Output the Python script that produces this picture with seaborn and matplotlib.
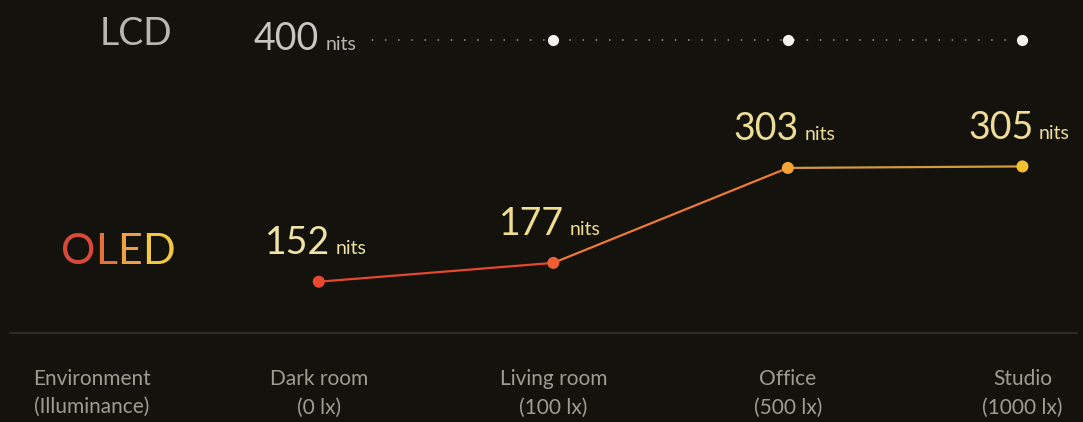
import matplotlib
matplotlib.use('Agg')
import matplotlib.pyplot as plt
import seaborn as sns
from matplotlib.lines import Line2D

categories = ['Dark room', 'Living room', 'Office', 'Studio']
illuminance = ['0 lx', '100 lx', '500 lx', '1000 lx']
positions = [0, 1, 2, 3]
lcd_nits = [400, 400, 400, 400]
oled_nits = [152, 177, 303, 305]

bg = '#13120d'
oled_point_colors = ['#e8492f', '#ee5f33', '#f5a535', '#f4c02f']
oled_seg_colors = ['#e4482f', '#ec7a35', '#d4983e']
oled_label_colors = ['#efe3a8', '#f0dd90', '#eddc95', '#efdc98']
oled_letters = ['O', 'L', 'E', 'D']
oled_letter_colors = ['#d9493a', '#e8703a', '#f0a040', '#f2c844']

sns.set_theme(style='dark', rc={'figure.facecolor': bg, 'axes.facecolor': bg})
plt.rcParams['font.family'] = ['Lato', 'DejaVu Sans']

fig = plt.figure(figsize=(10.83, 4.22), dpi=100)
ax = fig.add_axes([0.1644, 0.2133, 0.8338, 0.455])
ax_lcd = fig.add_axes([0.1644, 0.8578, 0.8338, 0.0948])

# OLED line, one colour per segment
for i in range(3):
    sns.lineplot(x=positions[i:i + 2], y=oled_nits[i:i + 2], ax=ax,
                 color=oled_seg_colors[i], linewidth=1.6, zorder=2)
sns.scatterplot(x=positions, y=oled_nits, hue=positions, palette=oled_point_colors,
                s=75, linewidth=0, legend=False, ax=ax, zorder=3)

for x, v, c in zip(positions, oled_nits, oled_label_colors):
    ax.annotate(str(v), (x, v), xytext=(8, 20), textcoords='offset points',
                ha='right', va='baseline', fontsize=27, color=c)
    ax.annotate('nits', (x, v), xytext=(12, 20), textcoords='offset points',
                ha='left', va='baseline', fontsize=14, color=c)

# LCD dotted line
sns.lineplot(x=positions, y=lcd_nits, ax=ax_lcd, color='#8a8780',
             linewidth=1.3, linestyle=(0, (0.8, 6.5)), zorder=1)
sns.scatterplot(x=positions[1:], y=lcd_nits[1:], color='#f2f2ee', s=65,
                linewidth=0, ax=ax_lcd, zorder=3)
ax_lcd.annotate('nits', (positions[0], lcd_nits[0]), xytext=(5, -7),
                textcoords='offset points', ha='left', va='baseline',
                fontsize=14, color='#b8b6b0',
                bbox=dict(boxstyle='square,pad=0.6', fc=bg, ec='none'), zorder=4)
ax_lcd.annotate(str(lcd_nits[0]), (positions[0], lcd_nits[0]), xytext=(0, -7),
                textcoords='offset points', ha='right', va='baseline',
                fontsize=27, color='#c8c6c0', zorder=5)

for a in (ax, ax_lcd):
    a.set_xlim(-0.6, 3.25)
    a.set_xlabel('')
    a.set_ylabel('')
    a.grid(False)
    for s in a.spines.values():
        s.set_visible(False)
ax.set_ylim(85.3, 340.1)
ax_lcd.set_ylim(380, 420)
ax_lcd.set_xticks([])
ax_lcd.set_yticks([])
ax.set_yticks([])
ax.set_xticks(positions)
ax.set_xticklabels([f'{c}\n({l})' for c, l in zip(categories, illuminance)],
                   fontsize=15, color='#a09c92', linespacing=1.5)
ax.tick_params(axis='x', length=0, pad=27)

# row labels
fig.text(172 / 1083, 1 - 34 / 422, 'LCD', ha='right', va='center',
         fontsize=27, color='#b8b6b0')
prev = fig.text(61 / 1083, 1 - 264 / 422, oled_letters[0], ha='left',
                va='baseline', fontsize=31, color=oled_letter_colors[0])
for letter, c in zip(oled_letters[1:], oled_letter_colors[1:]):
    prev = ax.annotate(letter, xy=(1.0, 0), xycoords=prev, ha='left', va='bottom',
                       fontsize=31, color=c, annotation_clip=False)
fig.text(92 / 1083, 1 - 369 / 422, 'Environment\n(Illuminance)', ha='center',
         va='top', fontsize=15, color='#a09c92', linespacing=1.5)

fig.add_artist(Line2D([10 / 1083, 1077 / 1083], [1 - 333 / 422] * 2,
                      color='#2b2a25', linewidth=1.5))

fig.savefig('out.png', dpi=100, facecolor=bg)
